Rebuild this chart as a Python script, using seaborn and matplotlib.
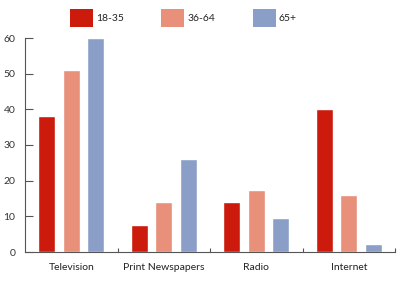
import matplotlib
matplotlib.use("Agg")
import matplotlib.pyplot as plt
import seaborn as sns
import pandas as pd
from matplotlib.patches import Patch

categories = ["Television", "Print Newspapers", "Radio", "Internet"]
groups = ["18-35", "36-64", "65+"]
v_18_35 = [38, 7.5, 14, 40]
v_36_64 = [51, 14, 17.5, 16]
v_65 = [60, 26, 9.5, 2.3]
colors = ["#cc1a0c", "#e8907a", "#8a9ec8"]

rows = []
for g, vals in zip(groups, [v_18_35, v_36_64, v_65]):
    for c, v in zip(categories, vals):
        rows.append({"Media": c, "Age": g, "Value": v})
df = pd.DataFrame(rows)

sns.set_theme(style="white")
plt.rcParams['font.family'] = ['Lato', 'DejaVu Sans']

fig = plt.figure(figsize=(4.07, 2.81), dpi=100)
ax = fig.add_axes([25/407, 1-252/281, 370/407, 214/281])

sns.barplot(data=df, x="Media", y="Value", hue="Age", order=categories,
            hue_order=groups, palette=colors, width=0.8, gap=0.31,
            saturation=1, ax=ax, legend=False)

ax.set_xlim(-0.5, 3.5)
ax.set_ylim(0, 60)
ax.set_yticks([0, 10, 20, 30, 40, 50, 60])
ax.set_xlabel("")
ax.set_ylabel("")
for s in ["top", "right"]:
    ax.spines[s].set_visible(False)
for s in ["left", "bottom"]:
    ax.spines[s].set_color("#555555")
    ax.spines[s].set_linewidth(0.8)

ax.tick_params(axis="y", direction="in", length=6, width=0.8, color="#555555",
               labelsize=7.5, labelcolor="#333333", pad=7, left=True)
ax.tick_params(axis="x", which="major", length=0, labelsize=7.5,
               labelcolor="#222222", pad=8)
ax.set_xticks([0.5, 1.5, 2.5, 3.5], minor=True)
ax.tick_params(axis="x", which="minor", direction="in", length=3, width=0.8,
               color="#555555", bottom=True)

handles = [Patch(facecolor=c, edgecolor="none", label=g) for c, g in zip(colors, groups)]
fig.legend(handles=handles, ncol=3, loc="center left",
           bbox_to_anchor=(70/407, 1-18/281), frameon=False,
           handlelength=2.2, handleheight=2.4, handletextpad=0.3,
           columnspacing=3.6, fontsize=7.5, labelcolor="#222222",
           borderaxespad=0, borderpad=0)

fig.savefig("out.png", dpi=100)
